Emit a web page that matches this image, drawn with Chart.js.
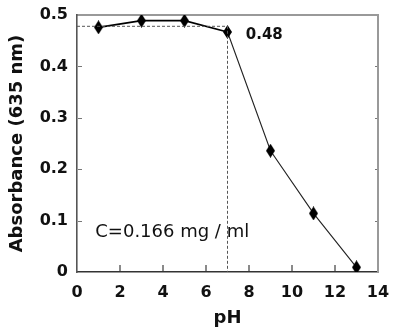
<!DOCTYPE html>
<html>
<head>
<meta charset="utf-8">
<script src="https://cdn.jsdelivr.net/npm/chart.js@4"></script>
<style>
  html, body { margin: 0; padding: 0; background: #fff; }
  #wrap { width: 393px; height: 327px; position: relative; }
</style>
</head>
<body>
<div id="wrap"><canvas id="c" width="393" height="327"></canvas></div>
<script>
// ---- data ----
const pHValues = [1, 3, 5, 7, 9, 11, 13];
const absorbance = [0.476, 0.489, 0.489, 0.467, 0.236, 0.114, 0.009];
const refLevel = 0.478;      // dashed horizontal guide (labelled 0.48)
const refPH = 7;             // dashed vertical guide
const refLabel = '0.48';
const concLabel = 'C=0.166 mg / ml';
const xTicks = [0, 2, 4, 6, 8, 10, 12, 14];
const yTicks = [0, 0.1, 0.2, 0.3, 0.4, 0.5];
const xTitle = 'pH';
const yTitle = 'Absorbance (635 nm)';

// elongated diamond marker
function diamond(w, h) {
  const cv = document.createElement('canvas');
  cv.width = w; cv.height = h;
  const g = cv.getContext('2d');
  g.fillStyle = '#000';
  g.beginPath();
  g.moveTo(w / 2, 0); g.lineTo(w, h / 2); g.lineTo(w / 2, h); g.lineTo(0, h / 2);
  g.closePath(); g.fill();
  return cv;
}
const marker = diamond(9, 14);

const mainData = pHValues.map((x, i) => ({x, y: absorbance[i]}));
const guideData = [{x: 0, y: refLevel}, {x: refPH, y: refLevel}, {x: refPH, y: 0}];

// inward tick marks, positioned through the scales
const innerTicks = {
  id: 'innerTicks',
  afterDraw(chart) {
    const {ctx, chartArea: a, scales: {x, y}} = chart;
    ctx.save();
    ctx.strokeStyle = '#8a8a8a';
    ctx.lineWidth = 2;
    xTicks.slice(1, -1).forEach(v => {
      const px = Math.round(x.getPixelForValue(v));
      ctx.beginPath(); ctx.moveTo(px, a.bottom - 1); ctx.lineTo(px, a.bottom - 7); ctx.stroke();
    });
    ctx.lineWidth = 1;
    ctx.strokeStyle = '#777';
    yTicks.slice(1, -1).forEach(v => {
      const py = Math.round(y.getPixelForValue(v)) + 0.5;
      ctx.beginPath(); ctx.moveTo(a.left + 1, py); ctx.lineTo(a.left + 5, py); ctx.stroke();
      ctx.beginPath(); ctx.moveTo(a.right - 1, py); ctx.lineTo(a.right - 3, py); ctx.stroke();
    });
    ctx.restore();
  }
};

const annot = {
  id: 'annot',
  afterDatasetsDraw(chart) {
    const {ctx, scales: {x, y}} = chart;
    ctx.save();
    ctx.fillStyle = '#111';
    ctx.textBaseline = 'middle';
    ctx.textAlign = 'left';
    ctx.font = 'bold 15px "DejaVu Sans"';
    ctx.fillText(refLabel, x.getPixelForValue(7.85), y.getPixelForValue(0.461));
    ctx.font = '18px "DejaVu Sans"';
    ctx.fillText(concLabel, x.getPixelForValue(0.85), y.getPixelForValue(0.077));
    ctx.restore();
  }
};

const tickFont = {family: 'DejaVu Sans', size: 16, weight: 'bold'};

new Chart(document.getElementById('c'), {
  type: 'line',
  data: {
    datasets: [
      {
        data: guideData,
        borderColor: '#555',
        borderWidth: 1,
        borderDash: [3, 2],
        pointRadius: 0,
        fill: false,
        tension: 0
      },
      {
        data: mainData,
        borderColor: '#000',
        borderWidth: 1.6,
        pointStyle: marker,
        pointRadius: 6,
        fill: false,
        tension: 0,
        segment: {
          borderWidth: c => (c.p0.parsed.x >= 7 ? 1.1 : 1.6),
          borderColor: c => (c.p0.parsed.x >= 7 ? '#222' : '#000')
        }
      }
    ]
  },
  options: {
    responsive: false,
    animation: false,
    devicePixelRatio: 1,
    layout: {padding: {top: 15, right: 15, left: 0, bottom: 0}, autoPadding: false},
    plugins: {legend: {display: false}, tooltip: {enabled: false}},
    scales: {
      x: {
        type: 'linear',
        min: 0, max: 14,
        afterBuildTicks: s => { s.ticks = xTicks.map(v => ({value: v})); },
        afterFit: s => { s.height = 55; s.paddingLeft = 0; s.paddingRight = 0; },
        border: {color: '#333', width: 1.6},
        grid: {drawOnChartArea: false, drawTicks: false},
        ticks: {font: tickFont, color: '#111', padding: 11, maxRotation: 0},
        title: {display: true, text: xTitle, font: {family: 'DejaVu Sans', size: 18, weight: 'bold', lineHeight: 1}, color: '#111', padding: {top: 0, bottom: 0}}
      },
      x2: {
        type: 'linear', position: 'top', min: 0, max: 14,
        afterFit: s => { s.height = 0; s.paddingLeft = 0; s.paddingRight = 0; },
        border: {color: '#999', width: 2},
        grid: {display: true, drawOnChartArea: false, drawTicks: false},
        ticks: {display: false}
      },
      y: {
        min: 0, max: 0.5,
        afterBuildTicks: s => { s.ticks = yTicks.map(v => ({value: v})); },
        afterFit: s => { s.width = 77; s.paddingTop = 0; s.paddingBottom = 0; },
        border: {color: '#555', width: 1.6},
        grid: {drawOnChartArea: false, drawTicks: false},
        ticks: {font: tickFont, color: '#111', padding: 9, callback: v => String(v)},
        title: {display: true, text: yTitle, font: {family: 'DejaVu Sans', size: 18, weight: 'bold', lineHeight: 1}, color: '#111', padding: {top: 8, bottom: 0}}
      },
      y2: {
        position: 'right', min: 0, max: 0.5,
        afterFit: s => { s.width = 0; s.paddingTop = 0; s.paddingBottom = 0; },
        border: {color: '#999', width: 2},
        grid: {display: true, drawOnChartArea: false, drawTicks: false},
        ticks: {display: false}
      }
    }
  },
  plugins: [innerTicks, annot]
});
</script>
</body>
</html>
